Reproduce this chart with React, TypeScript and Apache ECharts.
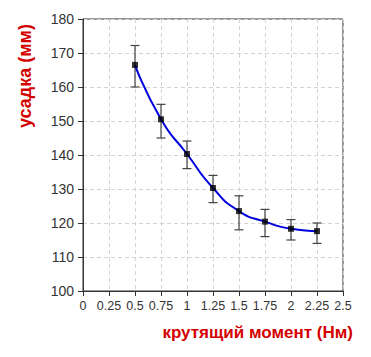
import React, { useEffect, useRef } from "react";
import * as echarts from "echarts";

const torque = [0.5, 0.75, 1, 1.25, 1.5, 1.75, 2, 2.25];
const shrink = [166.5, 150.5, 140.3, 130.3, 123.5, 120.4, 118.3, 117.6];
const errLow = [160, 145, 136, 126, 118, 116, 115, 114];
const errHigh = [172.2, 154.9, 144.1, 134, 128, 124, 121, 120];
const xTicks = [0, 0.25, 0.5, 0.75, 1, 1.25, 1.5, 1.75, 2, 2.25, 2.5];
const yAxisName = "усадка (мм)";
const xAxisName = "крутящий момент (Нм)";

export default function App() {
  const ref = useRef<HTMLDivElement>(null);
  useEffect(() => {
    const chart = echarts.init(ref.current!, null, { renderer: "svg" });
    const font = "Liberation Sans, Arial, sans-serif";
    chart.setOption({
      animation: false,
      backgroundColor: "#ffffff",
      grid: { left: 83, right: 28, top: 19, bottom: 66, show: true, borderColor: "#333", borderWidth: 1 },
      xAxis: {
        type: "value",
        min: 0,
        max: 2.5,
        interval: 0.25,
        axisLine: { lineStyle: { color: "#333" } },
        axisTick: { show: true, length: 5, lineStyle: { color: "#333" } },
        axisLabel: {
          color: "#333",
          fontSize: 12.5,
          fontFamily: font,
          margin: 8,
          formatter: (v: number) => (xTicks.includes(v) ? String(v) : ""),
        },
        splitLine: { show: true, lineStyle: { color: "#d4d4d4", type: [4, 3] } },
      },
      yAxis: {
        type: "value",
        min: 100,
        max: 180,
        interval: 10,
        axisLine: { show: true, lineStyle: { color: "#333" } },
        axisTick: { show: true, length: 5, lineStyle: { color: "#333" } },
        axisLabel: { color: "#333", fontSize: 14, fontFamily: font, margin: 9 },
        splitLine: { show: true, lineStyle: { color: "#d4d4d4", type: [4, 3] } },
      },
      graphic: [
        {
          type: "text",
          x: 25,
          y: 76,
          rotation: Math.PI / 2,
          style: {
            text: yAxisName,
            fill: "#d40000",
            font: `bold 18px ${font}`,
            textAlign: "center",
            textVerticalAlign: "middle",
          },
        },
        {
          type: "text",
          x: 353,
          y: 332,
          style: {
            text: xAxisName,
            fill: "#d40000",
            font: `bold 17px ${font}`,
            textAlign: "right",
            textVerticalAlign: "middle",
          },
        },
      ],
      series: [
        {
          type: "custom",
          data: torque.map((x, i) => [x, errLow[i], errHigh[i]]),
          z: 1,
          renderItem: (params: any, api: any) => {
            const x = api.value(0);
            const lo = api.coord([x, api.value(1)]);
            const hi = api.coord([x, api.value(2)]);
            const hw = 4.5;
            const style = { stroke: "#444", lineWidth: 1.2 };
            return {
              type: "group",
              children: [
                { type: "line", shape: { x1: lo[0], y1: lo[1], x2: hi[0], y2: hi[1] }, style },
                { type: "line", shape: { x1: lo[0] - hw, y1: lo[1], x2: lo[0] + hw, y2: lo[1] }, style },
                { type: "line", shape: { x1: hi[0] - hw, y1: hi[1], x2: hi[0] + hw, y2: hi[1] }, style },
              ],
            };
          },
        },
        {
          type: "line",
          data: torque.map((x, i) => [x, shrink[i]]),
          smooth: 0.6,
          showSymbol: false,
          lineStyle: { color: "#0000dd", width: 2 },
          z: 2,
        },
        {
          type: "scatter",
          data: torque.map((x, i) => [x, shrink[i]]),
          symbol: "rect",
          symbolSize: 6,
          itemStyle: { color: "#000" },
          z: 3,
        },
      ],
    });
    return () => chart.dispose();
  }, []);
  return <div ref={ref} style={{ width: 371, height: 357, position: "absolute", left: 0, top: 0 }} />;
}
